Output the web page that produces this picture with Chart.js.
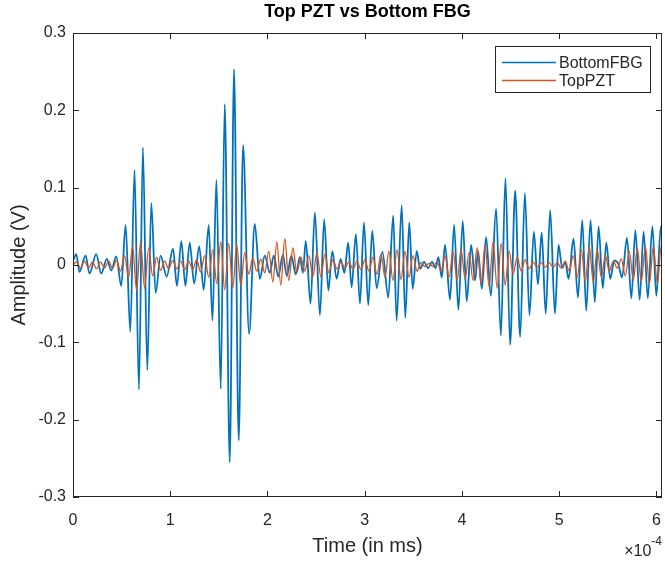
<!DOCTYPE html>
<html>
<head>
<meta charset="utf-8">
<script src="https://cdn.jsdelivr.net/npm/chart.js@4.4.1/dist/chart.umd.min.js"></script>
<style>
  html, body { margin: 0; padding: 0; background: #ffffff; }
  canvas { display: block; }
</style>
</head>
<body>
<canvas id="chart" width="665" height="561"></canvas>
<script>
// Time values are in units of 1e-4 (shown by the exponent label at the axis end).
// Amplitudes are in volts. Each series lists its successive peaks and troughs.
const fbgTime = [
  0.000,0.033,0.067,0.129,0.170,0.239,0.290,0.348,0.393,0.445,
  0.496,0.541,0.589,0.633,0.678,0.719,0.764,0.805,0.850,0.901,
  0.963,1.028,1.069,1.114,1.156,1.200,1.246,1.298,1.344,1.396,
  1.434,1.475,1.519,1.560,1.612,1.656,1.704,1.749,1.811,1.869,
  1.921,1.972,2.024,2.065,2.111,2.158,2.199,2.245,2.291,2.333,
  2.364,2.394,2.443,2.487,2.539,2.583,2.626,2.667,2.711,2.752,
  2.791,2.830,2.865,2.909,2.951,2.992,3.036,3.077,3.123,3.182,
  3.242,3.293,3.328,3.380,3.417,3.458,3.493,3.535,3.569,3.610,
  3.651,3.692,3.728,3.757,3.792,3.826,3.877,3.919,3.963,4.008,
  4.049,4.094,4.135,4.166,4.204,4.248,4.297,4.351,4.400,4.447,
  4.495,4.547,4.598,4.647,4.694,4.739,4.781,4.820,4.861,4.907,
  4.956,4.993,5.031,5.062,5.096,5.147,5.193,5.237,5.278,5.322,
  5.366,5.405,5.448,5.484,5.525,5.566,5.608,5.646,5.697,5.742,
  5.783,5.827,5.868,5.911,5.958,5.999,6.045,6.057
];
const fbgAmp = [
  0.005,0.014,-0.009,0.012,-0.011,0.014,-0.011,0.008,-0.007,0.011,
  -0.027,0.052,-0.086,0.123,-0.161,0.152,-0.136,0.080,-0.036,0.012,
  -0.015,0.021,-0.027,0.031,-0.027,0.029,-0.024,0.024,-0.032,0.052,
  -0.072,0.110,-0.160,0.208,-0.255,0.253,-0.227,0.155,-0.089,0.053,
  -0.018,0.012,-0.010,0.012,-0.015,0.013,-0.014,0.012,-0.012,0.010,
  -0.010,0.031,-0.050,0.068,-0.065,0.059,-0.033,0.018,-0.018,0.008,
  -0.010,0.029,-0.029,0.040,-0.050,0.055,-0.052,0.044,-0.030,0.017,
  -0.042,0.064,-0.072,0.077,-0.068,0.055,-0.031,0.018,-0.005,0.004,
  -0.004,0.004,-0.004,0.010,-0.016,0.026,-0.045,0.052,-0.058,0.057,
  -0.047,0.026,-0.020,0.018,-0.031,0.036,-0.040,0.073,-0.091,0.112,
  -0.103,0.096,-0.093,0.093,-0.065,0.043,-0.025,0.042,-0.063,0.071,
  -0.063,0.026,-0.004,0.004,-0.018,0.034,-0.042,0.058,-0.059,0.058,
  -0.048,0.050,-0.030,0.029,-0.018,0.006,0.001,-0.016,0.035,-0.043,
  0.045,-0.045,0.043,-0.043,0.050,-0.040,0.050,0.040
];
const pztTime = [
  0.000,0.036,0.077,0.118,0.160,0.201,0.242,0.283,0.324,0.366,
  0.407,0.448,0.489,0.530,0.572,0.613,0.654,0.695,0.736,0.778,
  0.819,0.860,0.901,0.942,0.984,1.025,1.066,1.107,1.148,1.190,
  1.231,1.272,1.313,1.354,1.396,1.437,1.478,1.519,1.560,1.601,
  1.643,1.684,1.725,1.766,1.807,1.849,1.890,1.931,1.972,2.013,
  2.055,2.096,2.137,2.178,2.219,2.261,2.302,2.343,2.384,2.425,
  2.467,2.508,2.549,2.590,2.631,2.673,2.714,2.755,2.796,2.837,
  2.879,2.920,2.961,3.002,3.043,3.084,3.126,3.167,3.208,3.249,
  3.290,3.332,3.373,3.414,3.455,3.496,3.538,3.579,3.620,3.661,
  3.702,3.744,3.785,3.826,3.867,3.908,3.950,3.991,4.032,4.073,
  4.114,4.156,4.197,4.238,4.279,4.320,4.362,4.403,4.444,4.485,
  4.526,4.567,4.609,4.650,4.691,4.732,4.773,4.815,4.856,4.897,
  4.938,4.979,5.021,5.062,5.103,5.144,5.185,5.227,5.268,5.309,
  5.350,5.391,5.433,5.474,5.515,5.556,5.597,5.638,5.680,5.721,
  5.762,5.803,5.844,5.886,5.927,5.968,6.009,6.050,6.057
];
const pztAmp = [
  0.000,0.004,-0.004,0.005,-0.004,0.004,-0.005,0.004,-0.004,0.005,
  -0.004,0.006,-0.008,0.012,-0.016,0.024,-0.033,0.030,-0.030,0.022,
  -0.014,0.010,-0.007,0.005,-0.005,0.006,-0.005,0.005,-0.006,0.005,
  -0.006,0.007,-0.009,0.012,-0.016,0.020,-0.024,0.030,-0.032,0.028,
  -0.030,0.026,-0.027,0.016,-0.012,0.009,-0.008,0.008,-0.010,0.018,
  -0.022,0.030,-0.026,0.034,-0.020,0.022,-0.010,0.010,-0.008,0.012,
  -0.015,0.016,-0.015,0.014,-0.010,0.007,-0.005,0.004,-0.004,0.004,
  -0.005,0.005,-0.006,0.007,-0.008,0.010,-0.012,0.014,-0.016,0.018,
  -0.020,0.020,-0.019,0.018,-0.016,0.012,-0.008,0.003,-0.002,0.002,
  -0.002,0.004,-0.008,0.012,-0.016,0.018,-0.020,0.020,-0.018,0.016,
  -0.020,0.022,-0.024,0.026,-0.028,0.030,-0.030,0.028,-0.026,0.018,
  -0.012,0.010,-0.008,0.007,-0.005,0.004,-0.003,0.003,-0.003,0.003,
  -0.003,0.003,-0.004,0.005,-0.008,0.012,-0.016,0.020,-0.022,0.024,
  -0.022,0.020,-0.016,0.012,-0.008,0.005,-0.004,0.008,-0.014,0.018,
  -0.020,0.022,-0.022,0.024,-0.024,0.024,-0.024,0.025,0.020
];

const seriesNames = ['BottomFBG', 'TopPZT'];
const xTicks = [0, 1, 2, 3, 4, 5, 6];
const xTickLabels = ['0', '1', '2', '3', '4', '5', '6'];
const yTicks = [-0.3, -0.2, -0.1, 0, 0.1, 0.2, 0.3];
const yTickLabels = ['-0.3', '-0.2', '-0.1', '0', '0.1', '0.2', '0.3'];
const xMin = 0, xMax = 6.057;
const yMin = -0.3, yMax = 0.3;
const timeExponent = '-4';

const FONT = "'Liberation Sans', Arial, Helvetica, sans-serif";
const INK = '#262626';
const BLUE = '#0072BD';
const ORANGE = '#D95319';

const toPoints = (xs, ys) => xs.map((t, i) => ({ x: t, y: ys[i] }));

// Frame, inward tick marks, title, legend and the axis exponent, drawn in
// the plain style of a boxed engineering plot.
const plotDecor = {
  id: 'plotDecor',
  afterDraw(chart) {
    const { ctx, chartArea: a, scales: { x, y } } = chart;
    ctx.save();

    // box around the axes
    ctx.strokeStyle = INK;
    ctx.lineWidth = 1;
    ctx.strokeRect(a.left + 0.5, a.top + 0.5, a.right - a.left - 1, a.bottom - a.top - 1);

    // inward tick marks on all four sides
    const tl = 6;
    ctx.beginPath();
    xTicks.forEach(v => {
      const px = Math.round(x.getPixelForValue(v)) + 0.5;
      ctx.moveTo(px, a.bottom); ctx.lineTo(px, a.bottom - tl);
      ctx.moveTo(px, a.top); ctx.lineTo(px, a.top + tl);
    });
    yTicks.forEach(v => {
      const py = Math.round(y.getPixelForValue(v)) + 0.5;
      ctx.moveTo(a.left, py); ctx.lineTo(a.left + tl, py);
      ctx.moveTo(a.right, py); ctx.lineTo(a.right - tl, py);
    });
    ctx.stroke();

    // title centred over the axes
    ctx.fillStyle = '#000000';
    ctx.font = `bold 18px ${FONT}`;
    ctx.textAlign = 'center';
    ctx.textBaseline = 'middle';
    ctx.fillText('Top PZT vs Bottom FBG', (a.left + a.right) / 2, 12);

    // legend in the upper right corner
    const lw = 155, lh = 46;
    const lx = a.right - 12 - lw, ly = a.top + 13;
    ctx.fillStyle = '#ffffff';
    ctx.fillRect(lx, ly, lw, lh);
    ctx.strokeStyle = INK;
    ctx.lineWidth = 1;
    ctx.strokeRect(Math.round(lx) + 0.5, Math.round(ly) + 0.5, lw, lh);
    const colors = [BLUE, ORANGE];
    ctx.font = `16px ${FONT}`;
    ctx.textAlign = 'left';
    ctx.textBaseline = 'middle';
    seriesNames.forEach((name, i) => {
      const ry = ly + 16.5 + i * 18;
      ctx.strokeStyle = colors[i];
      ctx.lineWidth = 1.5;
      ctx.beginPath();
      ctx.moveTo(lx + 7, ry);
      ctx.lineTo(lx + 61, ry);
      ctx.stroke();
      ctx.fillStyle = INK;
      ctx.fillText(name, lx + 64, ry + 1);
    });

    // exponent of the time axis
    ctx.fillStyle = INK;
    ctx.textAlign = 'right';
    ctx.textBaseline = 'alphabetic';
    ctx.font = `12px ${FONT}`;
    const expW = ctx.measureText(timeExponent).width;
    ctx.fillText(timeExponent, a.right, 545);
    ctx.font = `16px ${FONT}`;
    ctx.fillText('\u00d710', a.right - expW, 556);

    ctx.restore();
  }
};

new Chart(document.getElementById('chart'), {
  type: 'line',
  data: {
    datasets: [
      {
        label: seriesNames[0],
        data: toPoints(fbgTime, fbgAmp),
        borderColor: BLUE,
        borderWidth: 1.8,
        pointRadius: 0,
        cubicInterpolationMode: 'monotone',
        fill: false,
        order: 2
      },
      {
        label: seriesNames[1],
        data: toPoints(pztTime, pztAmp),
        borderColor: ORANGE,
        borderWidth: 1.3,
        pointRadius: 0,
        cubicInterpolationMode: 'monotone',
        fill: false,
        order: 1
      }
    ]
  },
  options: {
    responsive: false,
    animation: false,
    devicePixelRatio: 1,
    layout: { padding: { top: 33, right: 3, left: 0, bottom: 0 } },
    plugins: {
      legend: { display: false },
      title: { display: false },
      tooltip: { enabled: false }
    },
    scales: {
      x: {
        type: 'linear',
        min: xMin,
        max: xMax,
        afterBuildTicks: s => { s.ticks = xTicks.map(v => ({ value: v })); },
        afterFit: s => { s.height = 64; s.paddingLeft = 0; s.paddingRight = 0; },
        grid: { display: false, drawTicks: false },
        border: { display: false },
        ticks: {
          font: { family: FONT, size: 16 },
          color: INK,
          padding: 14,
          maxRotation: 0,
          autoSkip: false,
          callback: (v, i) => xTickLabels[i]
        },
        title: {
          display: true,
          text: 'Time (in ms)',
          font: { family: FONT, size: 20 },
          color: INK,
          padding: { top: 0, bottom: 3 }
        }
      },
      y: {
        type: 'linear',
        min: yMin,
        max: yMax,
        afterBuildTicks: s => { s.ticks = yTicks.map(v => ({ value: v })); },
        afterFit: s => { s.width = 73; s.paddingTop = 0; s.paddingBottom = 0; },
        grid: { display: false, drawTicks: false },
        border: { display: false },
        ticks: {
          font: { family: FONT, size: 16 },
          color: INK,
          padding: 7,
          autoSkip: false,
          callback: (v, i) => yTickLabels[i]
        },
        title: {
          display: true,
          text: 'Amplitude (V)',
          font: { family: FONT, size: 20 },
          color: INK,
          padding: { top: 7, bottom: 0 }
        }
      }
    }
  },
  plugins: [plotDecor]
});
</script>
</body>
</html>
